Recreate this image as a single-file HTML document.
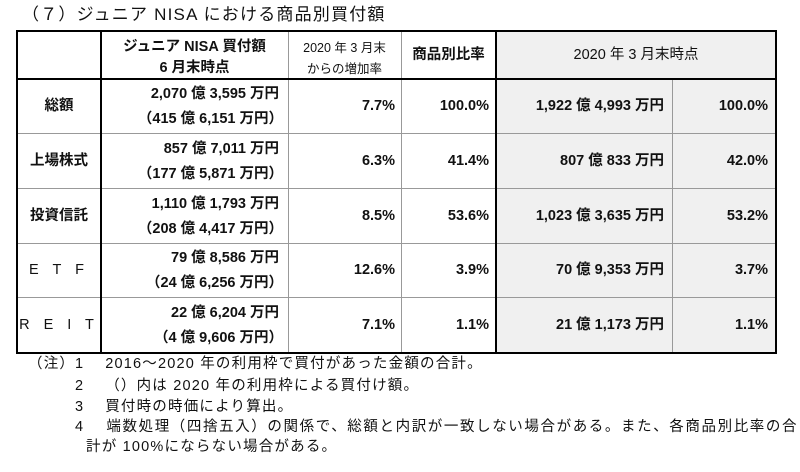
<!DOCTYPE html>
<html><head><meta charset="utf-8"><style>
body{margin:0;width:800px;height:472px;background:#fff;position:relative;overflow:hidden;font-family:"Liberation Sans","Noto Sans CJK JP",sans-serif;color:#111}
.a{position:absolute;white-space:nowrap;line-height:1}
.t{font-size:14.5px}
.b{font-weight:bold}
.s{font-size:12.5px}
.r{text-align:right}
.c{text-align:center}
.n{font-size:14.5px;letter-spacing:1.2px}
.ln{position:absolute;background:#000}
.g{position:absolute;background:#999}
</style></head><body>
<div class="a" style="left:22px;top:6px;font-size:17px;letter-spacing:1.2px">（７）ジュニア NISA における商品別買付額</div>

<div style="position:absolute;left:496px;top:31px;width:280px;height:322px;background:#f0f0f0"></div>

<div class="g" style="left:17px;top:133px;width:759px;height:1px"></div>
<div class="g" style="left:17px;top:188px;width:759px;height:1px"></div>
<div class="g" style="left:17px;top:243px;width:759px;height:1px"></div>
<div class="g" style="left:17px;top:297px;width:759px;height:1px"></div>
<div class="g" style="left:288px;top:31px;width:1px;height:322px"></div>
<div class="g" style="left:401px;top:31px;width:1px;height:322px"></div>
<div class="g" style="left:672px;top:79px;width:1px;height:274px"></div>
<div class="ln" style="left:16px;top:30px;width:761px;height:2px"></div>
<div class="ln" style="left:16px;top:78px;width:761px;height:2px"></div>
<div class="ln" style="left:16px;top:352px;width:761px;height:2px"></div>
<div class="ln" style="left:16px;top:30px;width:2px;height:324px"></div>
<div class="ln" style="left:100px;top:30px;width:2px;height:324px"></div>
<div class="ln" style="left:495px;top:30px;width:2px;height:324px"></div>
<div class="ln" style="left:775px;top:30px;width:2px;height:324px"></div>

<div class="a t b c" style="left:101px;width:187px;top:37px;line-height:21px">ジュニア NISA 買付額<br>6 月末時点</div>
<div class="a s c" style="left:288px;width:113px;top:38px;line-height:21px">2020 年 3 月末<br>からの増加率</div>
<div class="a t b c" style="left:401px;width:95px;top:48px">商品別比率</div>
<div class="a t c" style="left:496px;width:280px;top:48px">2020 年 3 月末時点</div>

<div id="rows"></div>

<div class="a n" style="left:28px;top:357px">（注）</div>
<div class="a n" style="left:75px;top:357px">1　 2016～2020 年の利用枠で買付があった金額の合計。</div>
<div class="a n" style="left:75px;top:379px">2　 （）内は 2020 年の利用枠による買付け額。</div>
<div class="a n" style="left:75px;top:400px">3　 買付時の時価により算出。</div>
<div class="a n" style="left:75px;top:420px;letter-spacing:1.6px">4　 端数処理（四捨五入）の関係で、総額と内訳が一致しない場合がある。また、各商品別比率の合</div>
<div class="a n" style="left:86px;top:440px">計が 100%にならない場合がある。</div>

<script>
const categories=["総額","上場株式","投資信託","E T F","R E I T"];
const amounts=["2,070 億 3,595 万円","857 億 7,011 万円","1,110 億 1,793 万円","79 億 8,586 万円","22 億 6,204 万円"];
const amounts2020=["（415 億 6,151 万円）","（177 億 5,871 万円）","（208 億 4,417 万円）","（24 億 6,256 万円）","（4 億 9,606 万円）"];
const growth=["7.7%","6.3%","8.5%","12.6%","7.1%"];
const ratio=["100.0%","41.4%","53.6%","3.9%","1.1%"];
const marchAmounts=["1,922 億 4,993 万円","807 億 833 万円","1,023 億 3,635 万円","70 億 9,353 万円","21 億 1,173 万円"];
const marchRatio=["100.0%","42.0%","53.2%","3.7%","1.1%"];
const root=document.getElementById('rows');
function add(txt,cls,style,name){
  const d=document.createElement('div');
  d.className='a t b '+cls;
  d.setAttribute('style',style);
  d.textContent=txt;
  
  
  root.appendChild(d);
}
for(let i=0;i<categories.length;i++){
  const top=79+i*54.8;
  const mid=top+20;
  const sp=(i>=3)?'letter-spacing:5px;font-weight:normal;':'';
  add(categories[i],'c',`left:17px;width:84px;top:${mid}px;${sp}`,'category-label');
  add(amounts[i],'r',`left:101px;width:178px;top:${top+8}px`,'cumulative-amount');
  add(amounts2020[i],'r',`left:101px;width:182px;top:${top+33}px`,'amount-2020');
  add(growth[i],'r',`left:288px;width:107px;top:${mid}px`,'growth-rate');
  add(ratio[i],'r',`left:401px;width:88px;top:${mid}px`,'product-ratio');
  add(marchAmounts[i],'r',`left:496px;width:168px;top:${mid}px`,'march-amount');
  add(marchRatio[i],'r',`left:672px;width:96px;top:${mid}px`,'march-ratio');
}
</script>
</body></html>
